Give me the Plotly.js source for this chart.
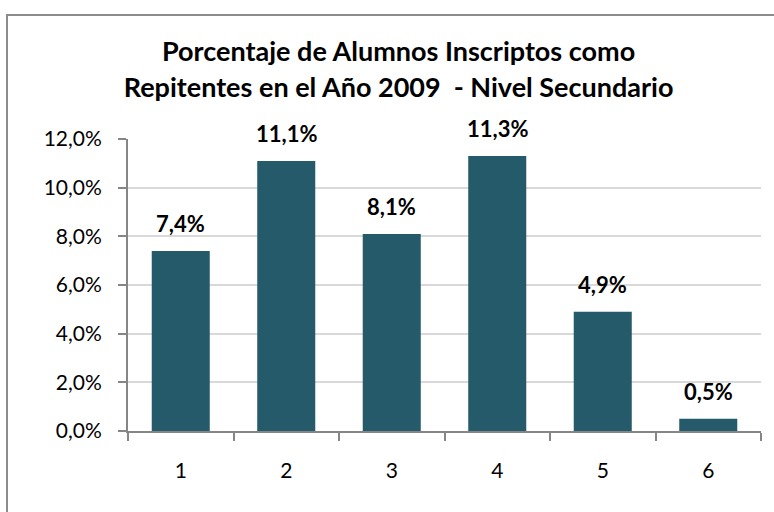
<!DOCTYPE html>
<html><head><meta charset="utf-8">
<script src="https://cdn.plot.ly/plotly-3.0.1.min.js"></script>
<style>
html,body{margin:0;padding:0;background:#fff;overflow:hidden;}
#frame{position:absolute;left:6px;top:14px;width:800px;height:600px;border:2px solid #8c8c8c;box-sizing:border-box;}
#chart{position:absolute;left:0;top:0;width:774px;height:512px;}
</style></head>
<body>
<div id="frame"></div>
<div id="chart"></div>
<script>
const categories = ["1","2","3","4","5","6"];
const values = [0.074, 0.111, 0.081, 0.113, 0.049, 0.005];
const yTicks = [0, 0.02, 0.04, 0.06, 0.08, 0.10, 0.12];
const titleText = "Porcentaje de Alumnos Inscriptos como<br>Repitentes en el Año 2009  - Nivel Secundario";

const fmt = v => (v * 100).toFixed(1).replace(".", ",") + "%";

const trace = {
  type: "bar",
  x: categories,
  y: values,
  marker: {color: "#245a69"},
  hoverinfo: "none"
};

const annotations = categories.map((c, i) => ({
  x: i, y: values[i], xref: "x", yref: "y",
  text: fmt(values[i]),
  showarrow: false,
  yanchor: "bottom",
  yshift: 12,
  font: {family: "Lato, sans-serif", size: 22, color: "#000", weight: "bold"}
}));

const layout = {
  width: 774, height: 512,
  paper_bgcolor: "rgba(0,0,0,0)", plot_bgcolor: "rgba(0,0,0,0)",
  separators: ",.",
  margin: {l: 128, r: 13, t: 139, b: 81},
  bargap: 0.45,
  showlegend: false,
  annotations: annotations,
  title: {
    text: titleText,
    font: {family: "Lato, sans-serif", size: 27, color: "#000", weight: "bold"},
    x: 0.515, xanchor: "center", y: 0.88, yanchor: "middle"
  },
  xaxis: {
    type: "category",
    range: [-0.5, 5.5],
    tickson: "boundaries",
    ticks: "outside", ticklen: 8, tickcolor: "#868686", tickwidth: 2,
    showline: true, linecolor: "#868686", linewidth: 2,
    showgrid: false,
    tickfont: {family: "Lato, sans-serif", size: 21, color: "#000"},
    ticklabelstandoff: 20
  },
  yaxis: {
    range: [0, 0.12],
    tickvals: yTicks,
    tickformat: ".1%",
    ticks: "outside", ticklen: 8, tickcolor: "#868686", tickwidth: 2,
    showline: true, linecolor: "#868686", linewidth: 2,
    showgrid: true, gridcolor: "#d9d9d9", gridwidth: 2,
    zeroline: false,
    tickfont: {family: "Lato, sans-serif", size: 21, color: "#000"},
    ticklabelstandoff: 12
  }
};

Plotly.newPlot("chart", [trace], layout, {displayModeBar: false, staticPlot: true});
</script>
</body></html>
